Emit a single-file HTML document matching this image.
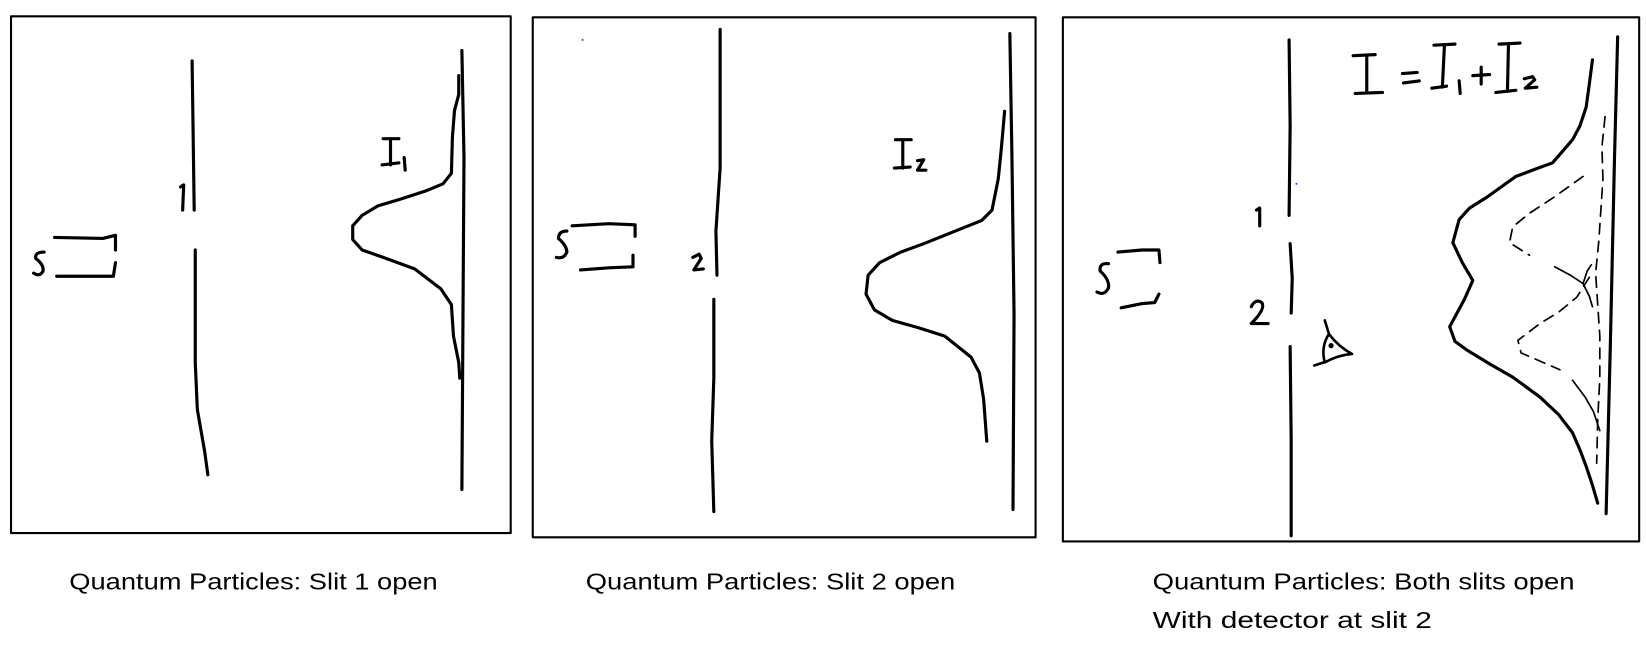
<!DOCTYPE html>
<html><head><meta charset="utf-8"><style>
html,body{margin:0;padding:0;background:#fff;}
svg{display:block;}
text{font-family:"Liberation Sans",sans-serif;}
</style></head><body>
<svg width="1646" height="646" viewBox="0 0 1568 615" preserveAspectRatio="none" xmlns="http://www.w3.org/2000/svg">
<g fill="none" stroke="#000" stroke-width="2" stroke-linecap="round" stroke-linejoin="round">
<rect x="10.5" y="15.5" width="476" height="492"/>
<rect x="507.5" y="16.5" width="479" height="495"/>
<rect x="1012.5" y="16.5" width="549" height="499"/>
</g>
<g fill="none" stroke="#000" stroke-width="3" stroke-linecap="round" stroke-linejoin="round">
<!-- panel 1 -->
<path d="M183 58 L185 200"/>
<path d="M186 238 L186 345 L188 390 L195 430 L198 452"/>
<path d="M440 48 L442 150 L440 466"/>
<path d="M437 72 L437 90 L433 105 L431 130 L430 165 L422 175 L405 182 L380 190 L360 196 L345 205 L336 215 L336 228 L345 238 L365 245 L395 256 L420 275 L430 290 L432 320 L437 345 L438 360"/>
<path d="M172 178 L175 176 L174 200"/>
<path d="M42 240 Q33 240 34 246 Q42 252 41 258 Q38 264 32 260"/>
<path d="M52 226 L98 227 L110 224 L110 238"/>
<path d="M54 263 L108 263 L110 250"/>
<path d="M365 132 L380 132 M372 132 L372 157 M364 157 L380 155 M385 150 L386 162"/>
<!-- panel 2 -->
<path d="M686 28 L686 160 L682 220 L683 262"/>
<path d="M680 285 L680 360 L678 420 L680 487"/>
<path d="M962 32 L964 150 L966 300 L965 485"/>
<path d="M957 106 L954 140 L951 170 L945 200 L935 210 L910 220 L880 232 L858 240 L838 250 L827 262 L825 280 L833 295 L850 305 L875 312 L900 320 L925 340 L933 355 L937 380 L940 420"/>
<path d="M660 245 L666 242 L668 246 L661 257 L670 256"/>
<path d="M540 220 Q532 220 532 227 Q540 234 540 240 Q537 247 530 245"/>
<path d="M545 215 L580 213 L605 214 L605 225"/>
<path d="M553 257 L580 255 L603 254 L603 243"/>
<path d="M853 133 L868 133 M860 133 L860 160 M852 160 L867 159 M874 153 L880 152 L874 162 L882 162"/>
<!-- panel 3 -->
<path d="M1228 38 L1229 120 L1228 205"/>
<path d="M1229 232 L1231 265 L1230 298"/>
<path d="M1229 330 L1230 420 L1230 510"/>
<path d="M1541 35 L1538 150 L1534 330 L1530 489"/>
<path d="M1517 57 L1514 80 L1511 102 L1505 120 L1498 133 L1479 155 L1460 162 L1444 168 L1416 188 L1400 198 L1390 209 L1384 231 L1393 250 L1403 267 L1395 285 L1381 311 L1386 325 L1397 333 L1420 347 L1441 359 L1467 378 L1485 395 L1498 412 L1505 428 L1511 444 L1517 462 L1522 479"/>
<path d="M1197 200 L1200 198 L1200 215"/>
<path d="M1192 292 Q1196 284 1202 288 Q1206 294 1192 308 L1208 308"/>
<path d="M1056 251 Q1047 250 1048 258 Q1057 266 1056 274 Q1052 282 1045 278"/>
<path d="M1065 240 L1088 238 L1104 238 L1105 250"/>
<path d="M1068 293 L1088 289 L1100 288 L1104 280"/>
<!-- I = I1 + I2 -->
<path d="M1289 53 L1310 52 M1302 53 L1302 88 M1291 89 L1317 88"/>
<path d="M1336 70 L1350 69 M1337 79 L1352 77"/>
<path d="M1366 43 L1386 42 M1376 43 L1374 83 M1364 84 L1378 82"/>
<path d="M1390 77 L1391 89"/>
<path d="M1411 64 L1411 80 M1403 72 L1419 71"/>
<path d="M1428 42 L1448 41 M1437 42 L1436 87 M1425 88 L1444 86"/>
<path d="M1452 75 L1460 73 L1462 76 L1453 84 L1464 83"/>
</g>
<!-- detector eye -->
<g fill="none" stroke="#000" stroke-width="2.5" stroke-linejoin="round" stroke-linecap="round">
<path d="M1262 305 L1266 318 Q1258 330 1262 345 Q1275 338 1288 337 Q1275 330 1266 318"/>
<path d="M1252 348 L1264 344"/>
</g>
<circle cx="1268" cy="329" r="2.5" fill="#000"/>
<!-- dashed inner curves -->
<g fill="none" stroke="#000" stroke-width="1.6" stroke-dasharray="10 7" stroke-linecap="round">
<path d="M1508 168 L1480 188 L1457 203 L1441 216 L1438 231 L1457 243"/>
<path d="M1514 264 L1502 283 L1485 297 L1467 308 L1446 324 L1449 336 L1486 352"/>
<path d="M1529 111 L1526 140 L1527 170 L1523 230 L1520 260 L1524 320 L1524 360 L1522 400 L1521 441"/>
</g>
<g fill="none" stroke="#000" stroke-width="1.6" stroke-linecap="round">
<path d="M1481 254 L1496 262 L1508 270 L1514 282 L1517 292"/>
<path d="M1508 270 L1512 258 L1516 252"/>
<path d="M1498 362 L1510 378 L1518 392 L1524 410"/>
</g>
<circle cx="555" cy="38" r="1" fill="#2a55c0"/>
<circle cx="1235" cy="175" r="1" fill="#2a55c0"/>
<g font-size="22" fill="#000">
<text x="66" y="561" textLength="351" lengthAdjust="spacingAndGlyphs">Quantum Particles: Slit 1 open</text>
<text x="558" y="561" textLength="352" lengthAdjust="spacingAndGlyphs">Quantum Particles: Slit 2 open</text>
<text x="1098" y="561" textLength="402" lengthAdjust="spacingAndGlyphs">Quantum Particles: Both slits open</text>
<text x="1098" y="598" textLength="266" lengthAdjust="spacingAndGlyphs">With detector at slit 2</text>
</g>
</svg>
</body></html>
